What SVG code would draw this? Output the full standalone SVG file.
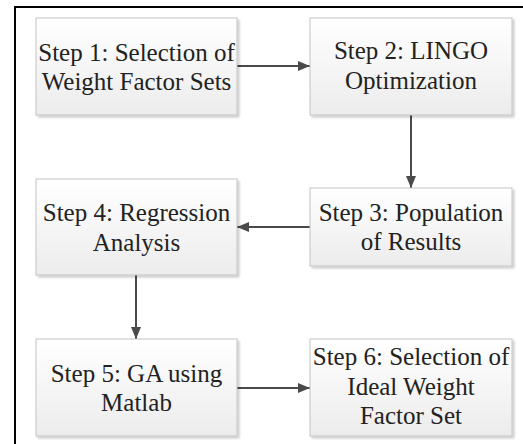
<svg xmlns="http://www.w3.org/2000/svg" width="523" height="444" viewBox="0 0 523 444">
<defs>
<linearGradient id="g" x1="0" y1="0" x2="0" y2="1">
<stop offset="0" stop-color="#ffffff"/>
<stop offset="1" stop-color="#ececec"/>
</linearGradient>
<marker id="ah" markerWidth="12" markerHeight="10" refX="12" refY="5" orient="auto" markerUnits="userSpaceOnUse">
<path d="M0,0 L12,5 L0,10 Z" fill="#4a4a4a"/>
</marker>
<filter id="sh" x="-10%" y="-10%" width="125%" height="130%">
<feDropShadow dx="2" dy="2" stdDeviation="1" flood-color="#000" flood-opacity="0.2"/>
</filter>
</defs>
<style>
.box{fill:url(#g);stroke:#c4c4c4;stroke-width:1;filter:url(#sh)}
.t{font-family:'Liberation Serif','Times New Roman',serif;font-size:25px;fill:#222;text-anchor:middle}
.c{stroke:#4a4a4a;stroke-width:2;fill:none;marker-end:url(#ah)}
</style>
<rect x="15" y="7" width="530" height="460" fill="#fff" stroke="#000" stroke-width="2"/>
<g id="connectors">
<line class="c" x1="237" y1="66" x2="310" y2="66"/>
<line class="c" x1="411" y1="115" x2="411" y2="188"/>
<line class="c" x1="310" y1="227" x2="237" y2="227"/>
<line class="c" x1="136" y1="275" x2="136" y2="339"/>
<line class="c" x1="237" y1="388" x2="310" y2="388"/>
</g>
<g id="step1">
<rect class="box" x="36" y="18" width="201" height="97"/>
<text class="t" x="136.5" y="60.5">Step 1: Selection of</text>
<text class="t" x="136.5" y="90">Weight Factor Sets</text>
</g>
<g id="step2">
<rect class="box" x="310" y="18" width="202" height="97"/>
<text class="t" x="411" y="59">Step 2: LINGO</text>
<text class="t" x="411" y="88.5">Optimization</text>
</g>
<g id="step3">
<rect class="box" x="310" y="188" width="202" height="78"/>
<text class="t" x="411" y="220.5">Step 3: Population</text>
<text class="t" x="411" y="250">of Results</text>
</g>
<g id="step4">
<rect class="box" x="36" y="179" width="201" height="96"/>
<text class="t" x="136.5" y="221">Step 4: Regression</text>
<text class="t" x="136.5" y="250.5">Analysis</text>
</g>
<g id="step5">
<rect class="box" x="36" y="339" width="201" height="97"/>
<text class="t" x="136.5" y="381.5">Step 5: GA using</text>
<text class="t" x="136.5" y="411">Matlab</text>
</g>
<g id="step6">
<rect class="box" x="310" y="339" width="202" height="97"/>
<text class="t" x="411" y="365">Step 6: Selection of</text>
<text class="t" x="411" y="394.5">Ideal Weight</text>
<text class="t" x="411" y="424">Factor Set</text>
</g>
</svg>
